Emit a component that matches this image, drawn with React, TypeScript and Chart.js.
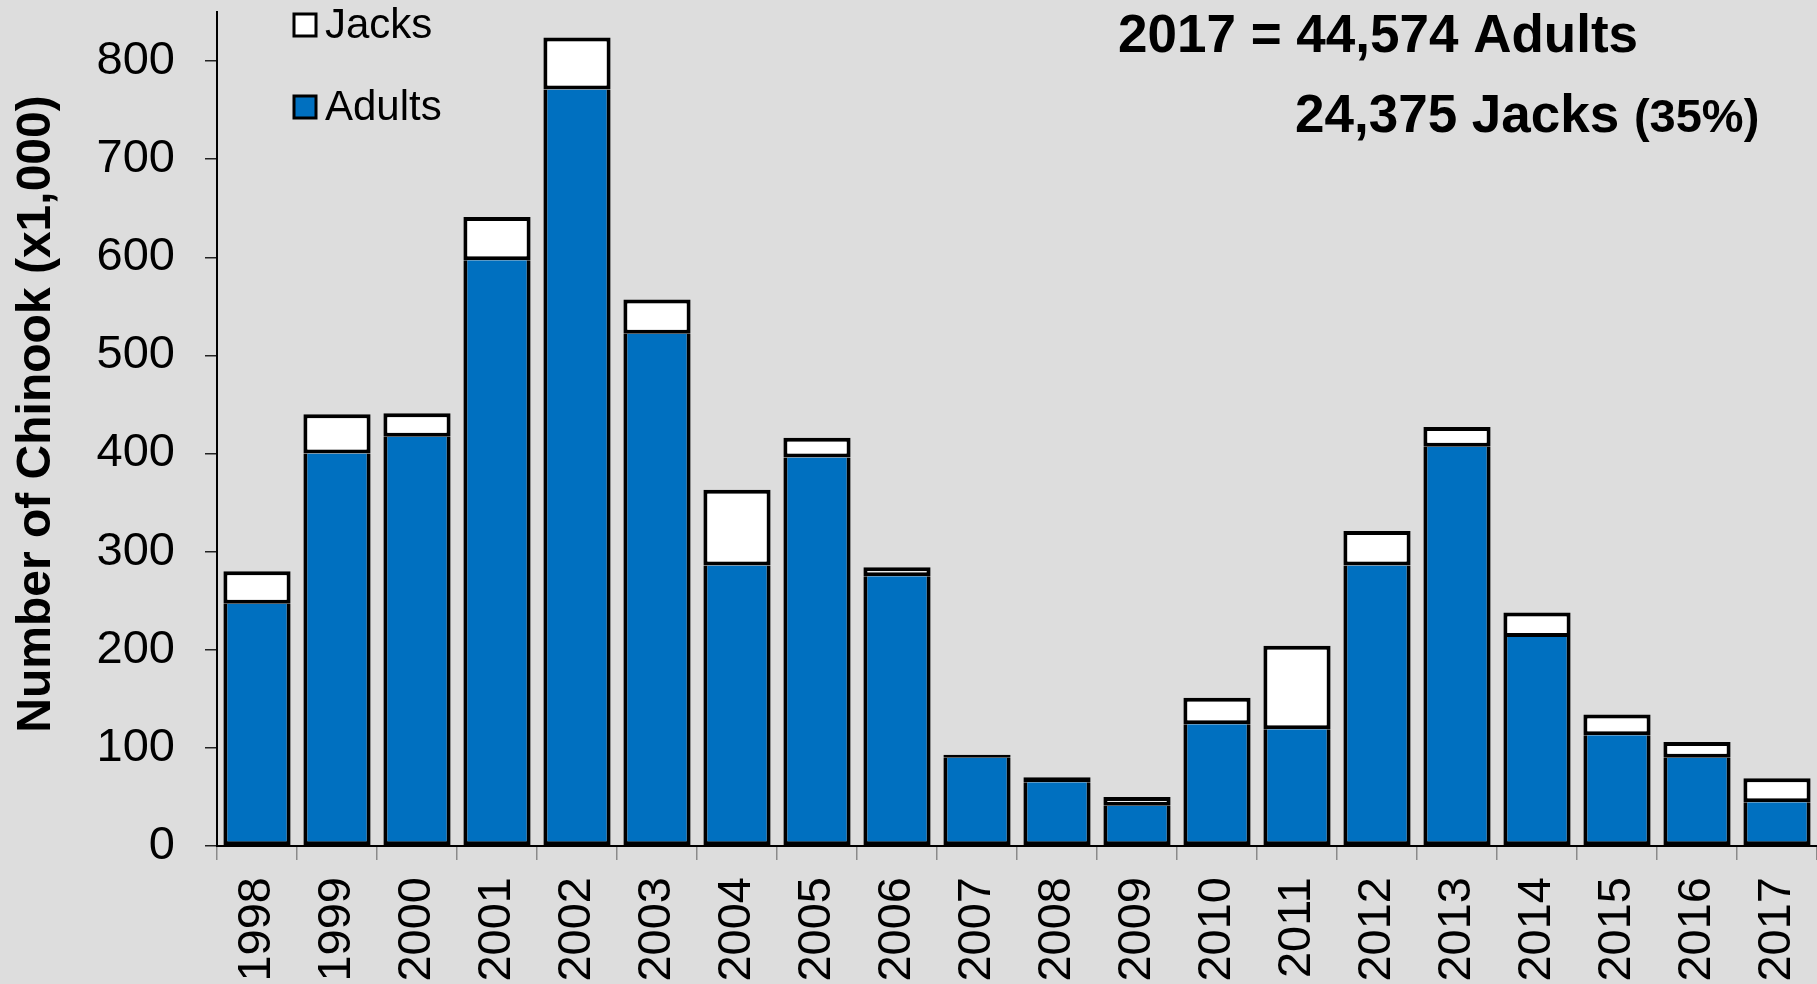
import React, { useEffect, useRef } from "react";
import { Chart, registerables } from "chart.js";

Chart.register(...registerables);

const years = ["1998", "1999", "2000", "2001", "2002", "2003", "2004", "2005", "2006", "2007", "2008", "2009", "2010", "2011", "2012", "2013", "2014", "2015", "2016", "2017"];
const adults = [247, 400, 417, 597, 771, 522, 286, 396, 275, 90, 65, 41, 124, 119, 286, 407, 213, 113, 90, 44.574];
const jacks = [33, 40, 24, 44, 53, 35, 77, 20, 9, 3, 5, 9, 27, 85, 35, 20, 25, 21, 16, 24.375];
const yAxisTitle = "Number of Chinook (x1,000)";
const legendLabels = ["Jacks", "Adults"];
const noteLine1 = "2017 = 44,574 Adults";
const noteLine2 = "24,375 Jacks";
const noteLine2Small = "(35%)";

const FONT = "'Liberation Sans', Arial, Helvetica, sans-serif";
const BLUE = "#0070C0";
const BG = "#DDDDDD";

const overlayPlugin = {
  id: "overlay",
  afterDraw(chart: any) {
    const ctx = chart.ctx as CanvasRenderingContext2D;
    ctx.save();
    // y-axis title
    ctx.save();
    ctx.translate(37, 414);
    ctx.rotate(-Math.PI / 2);
    ctx.fillStyle = "#000";
    ctx.font = `bold 48px ${FONT}`;
    ctx.textAlign = "center";
    ctx.textBaseline = "middle";
    ctx.fillText(yAxisTitle, 0, 0);
    ctx.restore();
    // legend
    const items = [
      { label: legendLabels[0], fill: "#FFFFFF", y: 25 },
      { label: legendLabels[1], fill: BLUE, y: 107 },
    ];
    items.forEach((it) => {
      ctx.fillStyle = it.fill;
      ctx.fillRect(294, it.y - 11, 22, 22);
      ctx.lineWidth = 3;
      ctx.strokeStyle = "#000";
      ctx.strokeRect(294, it.y - 11, 22, 22);
      ctx.fillStyle = "#000";
      ctx.font = `42px ${FONT}`;
      ctx.textAlign = "left";
      ctx.textBaseline = "middle";
      ctx.fillText(it.label, 325, it.y + 1);
    });
    // annotation
    ctx.fillStyle = "#000";
    ctx.textBaseline = "alphabetic";
    ctx.font = `bold 53px ${FONT}`;
    ctx.fillText(noteLine1, 1118, 52);
    ctx.fillText(noteLine2, 1295, 132);
    const w = ctx.measureText(noteLine2 + " ").width;
    ctx.font = `bold 47px ${FONT}`;
    ctx.fillText(noteLine2Small, 1295 + w, 132);
    ctx.restore();
  },
};

export default function App() {
  const canvasRef = useRef<HTMLCanvasElement | null>(null);

  useEffect(() => {
    document.body.style.margin = "0";
    document.body.style.background = BG;
    const canvas = canvasRef.current;
    if (!canvas) return;
    const chart = new Chart(canvas, {
      type: "bar",
      data: {
        labels: years,
        datasets: [
          {
            label: "Adults",
            data: adults,
            backgroundColor: BLUE,
            borderColor: "#000",
            borderWidth: 4,
            borderSkipped: "top",
            barPercentage: 0.84,
            categoryPercentage: 1,
          },
          {
            label: "Jacks",
            data: jacks,
            backgroundColor: "#FFFFFF",
            borderColor: "#000",
            borderWidth: 4,
            borderSkipped: false,
            barPercentage: 0.84,
            categoryPercentage: 1,
          },
        ],
      },
      options: {
        animation: false,
        responsive: true,
        maintainAspectRatio: false,
        layout: { padding: { left: 0, right: 0, top: 12, bottom: 0 } },
        plugins: {
          legend: { display: false },
          tooltip: { enabled: false },
        },
        scales: {
          x: {
            stacked: true,
            border: { display: true, color: "#000", width: 2 },
            grid: {
              display: true,
              drawOnChartArea: false,
              drawTicks: true,
              tickLength: 14,
              color: "#8A8A8A",
              lineWidth: 1.5,
            },
            ticks: {
              color: "#000",
              font: { family: FONT, size: 47 },
              minRotation: 90,
              maxRotation: 90,
              autoSkip: false,
              padding: 17,
            },
            afterFit(scale: any) {
              scale.height = 138;
              scale.paddingLeft = 0;
              scale.paddingRight = 0;
            },
          },
          y: {
            stacked: true,
            min: 0,
            max: 850,
            border: { display: true, color: "#000", width: 2 },
            grid: {
              display: true,
              drawOnChartArea: false,
              drawTicks: true,
              tickLength: 12,
              color: "#222",
              lineWidth: 1.5,
            },
            ticks: {
              stepSize: 100,
              includeBounds: false,
              color: "#000",
              font: { family: FONT, size: 47 },
              padding: 30,
            },
            afterFit(scale: any) {
              scale.width = 217;
              scale.paddingTop = 0;
              scale.paddingBottom = 0;
            },
          },
        },
      },
      plugins: [overlayPlugin],
    } as any);
    return () => chart.destroy();
  }, []);

  return (
    <div style={{ position: "fixed", left: 0, top: 0, width: 1817, height: 984, background: BG }}>
      <canvas ref={canvasRef} />
    </div>
  );
}
